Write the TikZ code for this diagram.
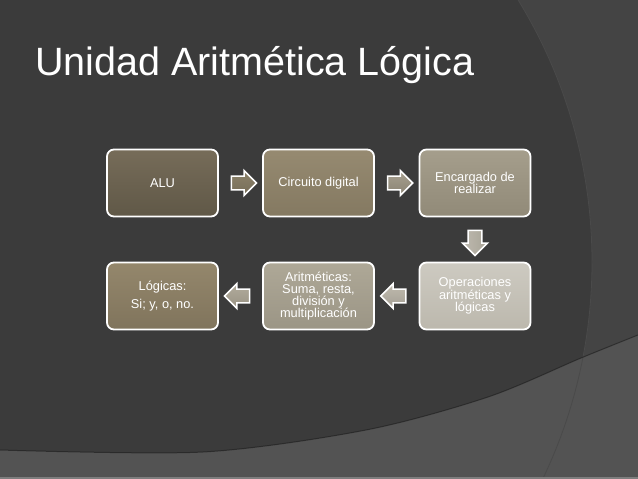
\documentclass[tikz,border=0pt]{standalone}
\usepackage{fontspec}
\setmainfont{Liberation Sans}
\usetikzlibrary{shapes.arrows,calc}
\definecolor{bgdark}{HTML}{3B3B3B}
\definecolor{bgright}{HTML}{444444}
\definecolor{bgbottom}{HTML}{535353}
\definecolor{bgline}{HTML}{4A4A4A}
\definecolor{bgstrip}{HTML}{7E7E7E}
\tikzset{
  box/.style={draw=white, line width=1.8pt, rounded corners=7pt,
    minimum width=111pt, minimum height=67pt, align=center, text=white,
    inner sep=2pt, font=\fontsize{12.8}{12.6}\selectfont},
  blockarrow/.style={single arrow, draw=white, line width=1.5pt,
    inner sep=6.2pt, single arrow head extend=5.5pt, minimum height=25pt,
    single arrow tip angle=90},
}
\begin{document}
\begin{tikzpicture}[x=1pt,y=-1pt]
% background
\useasboundingbox (0,0) rectangle (638,479);
\fill[bgright] (0,0) rectangle (638,479);
\begin{scope}
  \clip (0,0) rectangle (638,479);
  \fill[bgdark] (91,262) circle (501);
  \fill[bgbottom] plot[smooth] coordinates {(0,450) (203,452) (366,430) (488,397) (581,358) (638,335)}
    -- (638,479) -- (0,479) -- cycle;
  \draw[bgline, line width=0.8pt] (91,262) circle (501);
  \draw[black!70!bgdark, opacity=0.5, line width=1pt] plot[smooth] coordinates {(0,450) (203,452) (366,430) (488,397) (581,358) (638,335)};
\end{scope}
\fill[bgstrip] (0,476.5) rectangle (638,479);
% title
\node[anchor=base west, inner sep=0pt, text=white, font=\fontsize{39.5}{40}\selectfont]
  (title) at (35,75) {Unidad Aritmética Lógica};
% boxes
\node[box, top color={rgb,255:red,118;green,108;blue,89}, bottom color={rgb,255:red,96;green,88;blue,71}]
  (alu) at (162.5,183) {ALU};
\node[box, top color={rgb,255:red,150;green,138;blue,113}, bottom color={rgb,255:red,132;green,121;blue,97}]
  (cir) at (318.5,183) {Circuito digital};
\node[box, top color={rgb,255:red,165;green,158;blue,140}, bottom color={rgb,255:red,145;green,138;blue,120}]
  (enc) at (475,183) {Encargado de\\realizar};
\node[box, top color={rgb,255:red,205;green,202;blue,193}, bottom color={rgb,255:red,188;green,184;blue,173}]
  (ope) at (475,296) {Operaciones\\aritméticas y\\lógicas};
\node[box, top color={rgb,255:red,174;green,168;blue,151}, bottom color={rgb,255:red,155;green,149;blue,133}]
  (ari) at (318.5,296) {Aritméticas:\\[-0.5pt]Suma, resta,\\[-0.5pt]división y\\[-0.5pt]multiplicación};
\node[box, top color={rgb,255:red,148;green,135;blue,108}, bottom color={rgb,255:red,128;green,116;blue,92},
  font=\fontsize{12.8}{18}\selectfont]
  (log) at (162.5,296) {Lógicas:\\Si; y, o, no.};
% arrows
\node[blockarrow, top color={rgb,255:red,140;green,130;blue,106}, bottom color={rgb,255:red,118;green,109;blue,88}]
  (a1) at ($(alu.east)!0.5!(cir.west)$) {};
\node[blockarrow, top color={rgb,255:red,165;green,158;blue,142}, bottom color={rgb,255:red,140;green,133;blue,117}]
  (a2) at ($(cir.east)!0.5!(enc.west)$) {};
\node[blockarrow, shape border rotate=270, left color={rgb,255:red,190;green,186;blue,176}, right color={rgb,255:red,168;green,163;blue,150}]
  (a3) at ($(enc.south)!0.5!(ope.north)$) {};
\node[blockarrow, shape border rotate=180, top color={rgb,255:red,190;green,185;blue,174}, bottom color={rgb,255:red,165;green,160;blue,148}]
  (a4) at ($(ope.west)!0.5!(ari.east)$) {};
\node[blockarrow, shape border rotate=180, top color={rgb,255:red,178;green,172;blue,157}, bottom color={rgb,255:red,152;green,146;blue,131}]
  (a5) at ($(ari.west)!0.5!(log.east)$) {};
\end{tikzpicture}
\end{document}
